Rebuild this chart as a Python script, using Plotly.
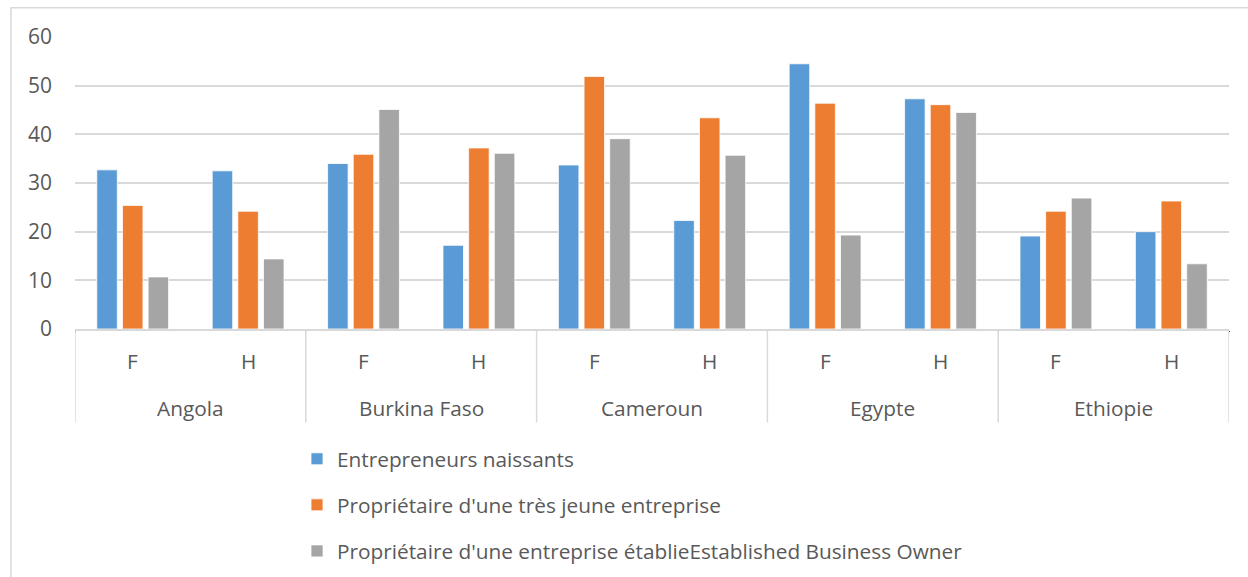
import plotly.graph_objects as go

countries = ["Angola", "Burkina Faso", "Cameroun", "Egypte", "Ethiopie"]
sexes = ["F", "H"]

series_names = [
    "Entrepreneurs naissants",
    "Propriétaire d'une très jeune entreprise",
    "Propriétaire d'une entreprise établieEstablished Business Owner",
]
# one value per (country, sex) pair, in order Angola F, Angola H, Burkina F, ...
naissants = [32.7, 32.5, 34.0, 17.2, 33.7, 22.3, 54.5, 47.3, 19.1, 20.0]
tres_jeune = [25.4, 24.2, 35.9, 37.2, 51.9, 43.4, 46.4, 46.1, 24.2, 26.3]
etablie = [10.7, 14.4, 45.1, 36.1, 39.1, 35.7, 19.3, 44.5, 26.9, 13.4]

colors = ["#5B9BD5", "#ED7D31", "#A5A5A5"]
y_ticks = [0, 10, 20, 30, 40, 50, 60]

FONT = "Open Sans"
TXT = "#595959"
GRID = "#D9D9D9"
FS = 20.8

outer = [c for c in countries for _ in sexes]
inner = [s for _ in countries for s in sexes]

fig = go.Figure()
for name, vals, col in zip(series_names, [naissants, tres_jeune, etablie], colors):
    fig.add_trace(go.Bar(
        x=[outer, inner], y=vals, name=name, legendgroup=name,
        marker=dict(color=col, line=dict(color="white", width=0.8)),
    ))

n = len(outer)
# category labels under the axis
for i, s in enumerate(inner):
    fig.add_annotation(x=i, y=-0.108, xref="x", yref="paper", text=s,
                       yanchor="middle", xanchor="center", showarrow=False,
                       font=dict(family=FONT, size=FS, color=TXT))
for k, c in enumerate(countries):
    fig.add_annotation(x=2 * k + 0.5, y=-0.269, xref="x", yref="paper", text=c,
                       yanchor="middle", xanchor="center", showarrow=False,
                       font=dict(family=FONT, size=FS, color=TXT))
# group dividers
for k in range(len(countries) + 1):
    fig.add_shape(type="line", x0=2 * k - 0.5, x1=2 * k - 0.5, xref="x",
                  y0=0, y1=-0.32, yref="paper", line=dict(color=GRID, width=1.5))
# chart frame
fig.add_shape(type="rect", xref="paper", yref="paper", x0=-0.0555, x1=1.2,
              y0=-1.2, y1=1.1, line=dict(color=GRID, width=1.5), layer="below")

fig.update_layout(
    width=1248, height=577,
    margin=dict(l=75, r=19, t=37, b=248, autoexpand=False),
    plot_bgcolor="white", paper_bgcolor="white",
    barmode="group", bargap=0.333, bargroupgap=0.2,
    font=dict(family=FONT, size=FS, color=TXT),
    showlegend=True,
    legend=dict(x=(297 - 75) / 1154, xanchor="left", y=-0.376, yanchor="top",
                orientation="v", traceorder="grouped", tracegroupgap=16,
                font=dict(family=FONT, size=FS, color=TXT),
                bgcolor="rgba(0,0,0,0)"),
)
fig.update_xaxes(showticklabels=False, ticks="", showgrid=False,
                 showline=True, linecolor=GRID, linewidth=1.5,
                 range=[-0.5, n - 0.5], fixedrange=True)
fig.update_yaxes(range=[0, 60], tickvals=y_ticks, showgrid=True, gridcolor=GRID,
                 gridwidth=1.5, zeroline=False, showline=False,
                 ticklabelstandoff=22, tickfont=dict(family=FONT, size=21, color=TXT),
                 fixedrange=True)

fig.write_html("out.html")
